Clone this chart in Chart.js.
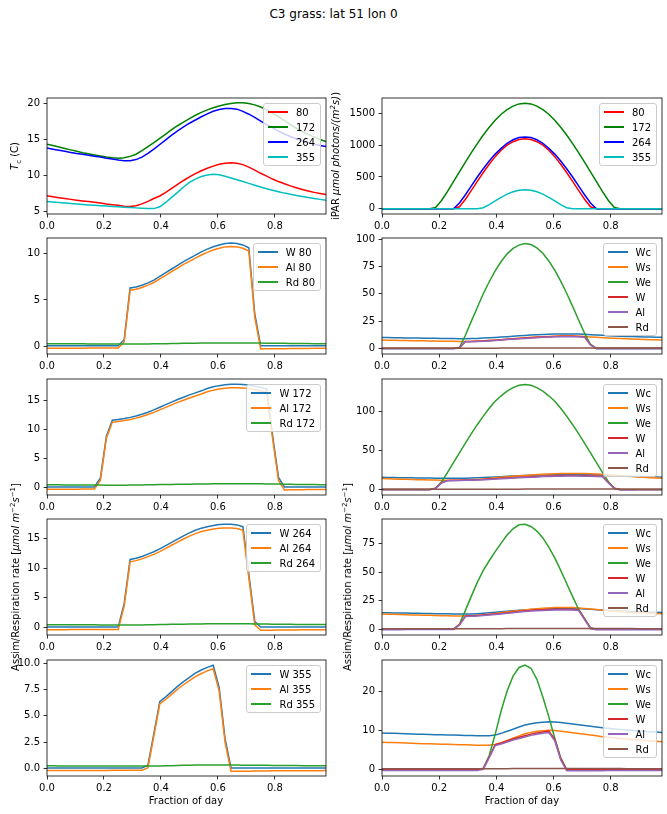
<!DOCTYPE html>
<html>
<head>
<meta charset="utf-8">
<script src="https://cdn.jsdelivr.net/npm/chart.js@4/dist/chart.umd.min.js"></script>
<style>
  html, body { margin: 0; padding: 0; background: #fff; }
  body { width: 667px; height: 814px; position: relative; overflow: hidden; font-family: "DejaVu Sans", sans-serif; color: #000; }
  canvas { position: absolute; }
  .txt { position: absolute; white-space: nowrap; font-size: 10px; line-height: 12px; z-index: 2; }
  .ylab { transform: translate(-50%, -50%) rotate(-90deg); }
  .xlab { transform: translate(-50%, -50%); }
  sup, sub { font-size: 7px; line-height: 0; }
  .legend { position: absolute; z-index: 3; background: rgba(255,255,255,0.8); border: 1px solid #ccc; border-radius: 3px; padding: 3px 5px 3px 4px; font-size: 10px; }
  .legend div { display: flex; align-items: center; height: 10px; margin-top: 5px; white-space: nowrap; }
  .legend div:first-child { margin-top: 0; }
  .legend i { display: inline-block; width: 20px; height: 1.5px; margin-right: 8px; }
</style>
</head>
<body>
<div class="txt" style="left:0; width:667px; top:7px; text-align:center; font-size:12px; line-height:14px;">C3 grass: lat 51 lon 0</div>
<div class="txt ylab" style="left:15px; top:156px;"><i>T</i><sub>c</sub> (C)</div>
<div class="txt ylab" style="left:336px; top:156px;">iPAR <i>μmol photons/(m<sup>2</sup>s)</i>)</div>
<div class="txt ylab" style="left:16px; top:577px;">Assim/Respiration rate [<i>μmol m</i><sup>−2</sup><i>s</i><sup>−1</sup>]</div>
<div class="txt ylab" style="left:348px; top:577px;">Assim/Respiration rate [<i>μmol m</i><sup>−2</sup><i>s</i><sup>−1</sup>]</div>
<div class="txt xlab" style="left:186px; top:801px;">Fraction of day</div>
<div class="txt xlab" style="left:522px; top:801px;">Fraction of day</div>

<canvas id="c1l"></canvas><canvas id="c1r"></canvas>
<canvas id="c2l"></canvas><canvas id="c2r"></canvas>
<canvas id="c3l"></canvas><canvas id="c3r"></canvas>
<canvas id="c4l"></canvas><canvas id="c4r"></canvas>
<canvas id="c5l"></canvas><canvas id="c5r"></canvas>

<script>
// half-hourly time steps, fraction of day
const dayFrac = [0, 0.0208, 0.0417, 0.0625, 0.0833, 0.1042, 0.125, 0.1458, 0.1667, 0.1875,
  0.2083, 0.2292, 0.25, 0.2708, 0.2917, 0.3125, 0.3333, 0.3542, 0.375, 0.3958,
  0.4167, 0.4375, 0.4583, 0.4792, 0.5, 0.5208, 0.5417, 0.5625, 0.5833, 0.6042,
  0.625, 0.6458, 0.6667, 0.6875, 0.7083, 0.7292, 0.75, 0.7708, 0.7917, 0.8125,
  0.8333, 0.8542, 0.875, 0.8958, 0.9167, 0.9375, 0.9583, 0.9792];
const xTicks = [0, 0.2, 0.4, 0.6, 0.8];
const xMax = 0.9792;

// canopy temperature (C) by day of year
const tc80 = [7.13, 7.0, 6.87, 6.75, 6.63, 6.52, 6.42, 6.32, 6.22, 6.13,
  6.0, 5.9, 5.8, 5.68, 5.65, 5.75, 6.0, 6.35, 6.75, 7.1,
  7.6, 8.15, 8.7, 9.25, 9.75, 10.2, 10.6, 10.95, 11.25, 11.5,
  11.65, 11.7, 11.65, 11.45, 11.1, 10.7, 10.25, 9.85, 9.45, 9.1,
  8.8, 8.5, 8.25, 8.0, 7.8, 7.6, 7.45, 7.3];
const tc172 = [14.3, 14.1, 13.9, 13.7, 13.5, 13.3, 13.1, 12.95, 12.8, 12.65,
  12.5, 12.4, 12.35, 12.4, 12.6, 12.9, 13.4, 13.95, 14.5, 15.1,
  15.7, 16.3, 16.85, 17.35, 17.85, 18.3, 18.7, 19.05, 19.35, 19.6,
  19.8, 19.95, 20.05, 20.05, 19.95, 19.75, 19.45, 19.05, 18.6, 18.1,
  17.55, 17.0, 16.5, 16.05, 15.65, 15.3, 14.95, 14.65];
const tc264 = [13.75, 13.6, 13.45, 13.3, 13.15, 13.0, 12.88, 12.75, 12.62, 12.5,
  12.35, 12.22, 12.1, 12.0, 12.0, 12.15, 12.5, 13.0, 13.6, 14.25,
  14.9, 15.55, 16.15, 16.7, 17.2, 17.65, 18.1, 18.5, 18.85, 19.1,
  19.25, 19.25, 19.15, 18.85, 18.45, 18.0, 17.5, 17.0, 16.55, 16.1,
  15.7, 15.35, 15.05, 14.75, 14.5, 14.3, 14.1, 13.95];
const tc355 = [6.34, 6.27, 6.2, 6.13, 6.05, 5.98, 5.92, 5.86, 5.8, 5.75,
  5.7, 5.65, 5.6, 5.55, 5.5, 5.45, 5.4, 5.35, 5.35, 5.6,
  6.2, 6.9, 7.6, 8.35, 9.0, 9.45, 9.8, 10.0, 10.1, 10.05,
  9.85, 9.6, 9.35, 9.1, 8.85, 8.6, 8.35, 8.1, 7.9, 7.7,
  7.5, 7.33, 7.17, 7.02, 6.88, 6.75, 6.63, 6.5];

// incident PAR
const ipar80 = [0, 0, 0, 0, 0, 0, 0, 0, 0, 0,
  0, 0, 0, 30, 150, 290, 430, 570, 700, 820,
  920, 1000, 1055, 1090, 1100, 1090, 1055, 1000, 920, 820,
  700, 570, 430, 290, 150, 30, 0, 0, 0, 0,
  0, 0, 0, 0, 0, 0, 0, 0];
const ipar172 = [0, 0, 0, 0, 0, 0, 0, 0, 0, 20,
  129, 272, 426, 580, 733, 882, 1026, 1160, 1283, 1392,
  1487, 1560, 1615, 1650, 1660, 1650, 1615, 1560, 1487, 1392,
  1283, 1160, 1026, 882, 733, 580, 426, 272, 129, 20,
  0, 0, 0, 0, 0, 0, 0, 0];
const ipar264 = [0, 0, 0, 0, 0, 0, 0, 0, 0, 0,
  0, 0, 0, 90, 220, 360, 500, 630, 750, 860,
  950, 1030, 1085, 1120, 1130, 1120, 1085, 1030, 950, 860,
  750, 630, 500, 360, 220, 90, 0, 0, 0, 0,
  0, 0, 0, 0, 0, 0, 0, 0];
const ipar355 = [0, 0, 0, 0, 0, 0, 0, 0, 0, 0,
  0, 0, 0, 0, 0, 0, 0, 15, 65, 125,
  180, 230, 268, 292, 300, 292, 268, 230, 180, 125,
  65, 15, 0, 0, 0, 0, 0, 0, 0, 0,
  0, 0, 0, 0, 0, 0, 0, 0];

// gross (W), net (Al) assimilation and respiration (Rd)
const w80 = [0.05, 0.05, 0.05, 0.05, 0.05, 0.05, 0.05, 0.05, 0.05, 0.05,
  0.05, 0.05, 0.05, 0.7, 6.3, 6.4, 6.6, 6.85, 7.15, 7.55,
  7.95, 8.35, 8.75, 9.15, 9.5, 9.85, 10.2, 10.5, 10.75, 10.95,
  11.1, 11.15, 11.1, 10.95, 10.65, 3.5, 0.05, 0.05, 0.05, 0.05,
  0.05, 0.05, 0.05, 0.05, 0.05, 0.05, 0.05, 0.05];
const al80 = [-0.22, -0.22, -0.22, -0.21, -0.21, -0.21, -0.21, -0.2, -0.2, -0.2,
  -0.2, -0.2, -0.19, 0.46, 6.06, 6.16, 6.35, 6.6, 6.89, 7.28,
  7.67, 8.06, 8.45, 8.84, 9.18, 9.52, 9.86, 10.15, 10.4, 10.59,
  10.74, 10.79, 10.74, 10.59, 10.3, 3.15, -0.29, -0.28, -0.27, -0.27,
  -0.26, -0.25, -0.25, -0.24, -0.24, -0.23, -0.23, -0.23];
const rd80 = [0.27, 0.27, 0.27, 0.26, 0.26, 0.26, 0.26, 0.25, 0.25, 0.25,
  0.25, 0.25, 0.24, 0.24, 0.24, 0.24, 0.25, 0.25, 0.26, 0.27,
  0.28, 0.29, 0.3, 0.31, 0.32, 0.33, 0.34, 0.35, 0.35, 0.36,
  0.36, 0.36, 0.36, 0.36, 0.35, 0.35, 0.34, 0.33, 0.32, 0.32,
  0.31, 0.3, 0.3, 0.29, 0.29, 0.28, 0.28, 0.28];

const w172 = [0.05, 0.05, 0.05, 0.05, 0.05, 0.05, 0.05, 0.05, 0.05, 1.6,
  8.8, 11.6, 11.75, 11.9, 12.1, 12.35, 12.65, 13.0, 13.4, 13.85,
  14.3, 14.75, 15.2, 15.6, 16.0, 16.35, 16.7, 17.1, 17.4, 17.6,
  17.75, 17.85, 17.85, 17.8, 17.7, 17.5, 17.3, 17.0, 9.0, 1.7,
  0.05, 0.05, 0.05, 0.05, 0.05, 0.05, 0.05, 0.05];
const al172 = [-0.37, -0.36, -0.36, -0.35, -0.34, -0.34, -0.33, -0.33, -0.32, 1.23,
  8.44, 11.24, 11.39, 11.54, 11.73, 11.97, 12.26, 12.59, 12.97, 13.4,
  13.84, 14.27, 14.7, 15.08, 15.47, 15.8, 16.14, 16.53, 16.82, 17.01,
  17.16, 17.25, 17.25, 17.2, 17.1, 16.91, 16.72, 16.43, 8.44, 1.16,
  -0.47, -0.46, -0.44, -0.43, -0.41, -0.4, -0.39, -0.38];
const rd172 = [0.42, 0.41, 0.41, 0.4, 0.39, 0.39, 0.38, 0.38, 0.37, 0.37,
  0.36, 0.36, 0.36, 0.36, 0.37, 0.38, 0.39, 0.41, 0.43, 0.45,
  0.46, 0.48, 0.5, 0.52, 0.53, 0.55, 0.56, 0.57, 0.58, 0.59,
  0.59, 0.6, 0.6, 0.6, 0.6, 0.59, 0.58, 0.57, 0.56, 0.54,
  0.52, 0.51, 0.49, 0.48, 0.46, 0.45, 0.44, 0.43];

const w264 = [0.05, 0.05, 0.05, 0.05, 0.05, 0.05, 0.05, 0.05, 0.05, 0.05,
  0.05, 0.05, 0.05, 4.0, 11.5, 11.7, 12.0, 12.4, 12.8, 13.3,
  13.85, 14.4, 14.95, 15.5, 16.0, 16.45, 16.8, 17.05, 17.25, 17.4,
  17.45, 17.45, 17.35, 17.05, 9.0, 1.0, 0.05, 0.05, 0.05, 0.05,
  0.05, 0.05, 0.05, 0.05, 0.05, 0.05, 0.05, 0.05];
const al264 = [-0.4, -0.4, -0.39, -0.39, -0.38, -0.38, -0.37, -0.37, -0.37, -0.36,
  -0.36, -0.35, -0.35, 3.6, 11.1, 11.3, 11.59, 11.97, 12.35, 12.83,
  13.37, 13.9, 14.43, 14.96, 15.45, 15.88, 16.22, 16.46, 16.65, 16.79,
  16.83, 16.83, 16.74, 16.45, 8.41, 0.42, -0.51, -0.5, -0.48, -0.47,
  -0.46, -0.45, -0.44, -0.43, -0.42, -0.42, -0.41, -0.41];
const rd264 = [0.45, 0.45, 0.44, 0.44, 0.43, 0.43, 0.42, 0.42, 0.42, 0.41,
  0.41, 0.4, 0.4, 0.4, 0.4, 0.4, 0.41, 0.43, 0.45, 0.47,
  0.48, 0.5, 0.52, 0.54, 0.55, 0.57, 0.58, 0.59, 0.6, 0.61,
  0.62, 0.62, 0.61, 0.6, 0.59, 0.58, 0.56, 0.55, 0.53, 0.52,
  0.51, 0.5, 0.49, 0.48, 0.47, 0.47, 0.46, 0.46];

const w355 = [0.05, 0.05, 0.05, 0.05, 0.05, 0.05, 0.05, 0.05, 0.05, 0.05,
  0.05, 0.05, 0.05, 0.05, 0.05, 0.05, 0.05, 0.3, 3.3, 6.35,
  6.8, 7.3, 7.8, 8.25, 8.65, 9.05, 9.35, 9.6, 9.8, 7.7,
  2.8, 0.05, 0.05, 0.05, 0.05, 0.05, 0.05, 0.05, 0.05, 0.05,
  0.05, 0.05, 0.05, 0.05, 0.05, 0.05, 0.05, 0.05];
const al355 = [-0.2, -0.2, -0.19, -0.19, -0.19, -0.19, -0.19, -0.19, -0.19, -0.19,
  -0.19, -0.18, -0.18, -0.18, -0.18, -0.18, -0.18, 0.07, 3.07, 6.12,
  6.55, 7.04, 7.52, 7.95, 8.34, 8.73, 9.02, 9.27, 9.47, 7.37,
  2.47, -0.27, -0.27, -0.26, -0.26, -0.25, -0.24, -0.24, -0.23, -0.23,
  -0.23, -0.22, -0.22, -0.21, -0.21, -0.21, -0.21, -0.2];
const rd355 = [0.25, 0.25, 0.24, 0.24, 0.24, 0.24, 0.24, 0.24, 0.24, 0.24,
  0.24, 0.23, 0.23, 0.23, 0.23, 0.23, 0.23, 0.23, 0.23, 0.23,
  0.25, 0.26, 0.28, 0.3, 0.31, 0.32, 0.33, 0.33, 0.33, 0.33,
  0.33, 0.32, 0.32, 0.31, 0.31, 0.3, 0.29, 0.29, 0.28, 0.28,
  0.28, 0.27, 0.27, 0.26, 0.26, 0.26, 0.26, 0.25];

// limiting rates: carboxylation (Wc), sink (Ws), light (We)
const wc80 = [10.0, 9.91, 9.81, 9.73, 9.64, 9.56, 9.49, 9.42, 9.34, 9.28,
  9.19, 9.11, 9.04, 8.96, 8.93, 9.01, 9.19, 9.44, 9.73, 9.98,
  10.34, 10.73, 11.13, 11.53, 11.89, 12.21, 12.5, 12.75, 12.97, 13.15,
  13.25, 13.29, 13.25, 13.11, 12.86, 12.57, 12.25, 11.96, 11.67, 11.42,
  11.2, 10.99, 10.81, 10.63, 10.48, 10.34, 10.23, 10.12];
const ws80 = [7.6, 7.49, 7.38, 7.28, 7.19, 7.09, 7.01, 6.93, 6.84, 6.77,
  6.66, 6.58, 6.5, 6.4, 6.37, 6.45, 6.66, 6.95, 7.28, 7.58,
  7.99, 8.45, 8.9, 9.36, 9.77, 10.15, 10.48, 10.77, 11.02, 11.23,
  11.35, 11.39, 11.35, 11.19, 10.9, 10.56, 10.19, 9.86, 9.53, 9.24,
  8.99, 8.74, 8.53, 8.32, 8.16, 7.99, 7.87, 7.74];
const we80 = [0, 0, 0, 0, 0, 0, 0, 0, 0, 0,
  0, 0, 0, 0.75, 12, 25, 37.5, 50, 61, 71,
  79.5, 86.5, 91.5, 94.5, 96, 95, 92, 87, 80, 71.5,
  61.5, 50.5, 38.5, 26, 14, 3.6, 0, 0, 0, 0,
  0, 0, 0, 0, 0, 0, 0, 0];

const wc172 = [15.6, 15.47, 15.34, 15.21, 15.08, 14.95, 14.82, 14.72, 14.63, 14.53,
  14.43, 14.37, 14.33, 14.37, 14.5, 14.69, 15.02, 15.37, 15.73, 16.12,
  16.51, 16.9, 17.26, 17.58, 17.91, 18.2, 18.46, 18.69, 18.88, 19.05,
  19.18, 19.27, 19.34, 19.34, 19.27, 19.14, 18.95, 18.69, 18.4, 18.07,
  17.71, 17.36, 17.03, 16.74, 16.48, 16.25, 16.02, 15.83];
const ws172 = [14.0, 13.77, 13.54, 13.3, 13.07, 12.84, 12.61, 12.43, 12.26, 12.09,
  11.91, 11.8, 11.74, 11.8, 12.03, 12.38, 12.96, 13.59, 14.23, 14.93,
  15.62, 16.32, 16.96, 17.54, 18.12, 18.64, 19.1, 19.51, 19.86, 20.15,
  20.38, 20.55, 20.67, 20.67, 20.55, 20.32, 19.97, 19.51, 18.99, 18.41,
  17.77, 17.13, 16.55, 16.03, 15.57, 15.16, 14.75, 14.41];
const we172 = [0, 0, 0, 0, 0, 0, 0, 0, 0, 1.7,
  10, 22, 34.5, 47, 59.5, 71.5, 83, 94, 104, 113,
  120, 126, 130.5, 133.5, 134.5, 133.5, 130.5, 126, 120, 113,
  104, 94, 83, 71.5, 59.5, 47, 34.5, 22, 10, 1.7,
  0, 0, 0, 0, 0, 0, 0, 0];

const wc264 = [14.5, 14.4, 14.29, 14.19, 14.08, 13.98, 13.89, 13.8, 13.71, 13.63,
  13.52, 13.43, 13.35, 13.28, 13.28, 13.38, 13.63, 13.98, 14.4, 14.85,
  15.31, 15.76, 16.18, 16.57, 16.92, 17.23, 17.55, 17.83, 18.07, 18.25,
  18.35, 18.35, 18.28, 18.07, 17.79, 17.48, 17.13, 16.78, 16.46, 16.15,
  15.87, 15.62, 15.41, 15.2, 15.03, 14.89, 14.75, 14.64];
const ws264 = [13.3, 13.14, 12.99, 12.83, 12.67, 12.51, 12.39, 12.25, 12.11, 11.99,
  11.83, 11.69, 11.57, 11.46, 11.46, 11.62, 11.99, 12.51, 13.14, 13.83,
  14.51, 15.19, 15.82, 16.4, 16.92, 17.4, 17.87, 18.29, 18.66, 18.92,
  19.08, 19.08, 18.97, 18.66, 18.24, 17.76, 17.24, 16.71, 16.24, 15.77,
  15.35, 14.98, 14.67, 14.35, 14.09, 13.88, 13.67, 13.51];
const we264 = [0, 0, 0, 0, 0, 0, 0, 0, 0, 0,
  0, 0, 0, 4.3, 16.5, 29, 41, 51.5, 60, 68,
  75.5, 82.5, 88, 91.5, 92, 90, 86, 80, 72, 62.5,
  51.5, 40, 28.5, 17.5, 9.5, 1.1, 0, 0, 0, 0,
  0, 0, 0, 0, 0, 0, 0, 0];

const wc355 = [9.35, 9.3, 9.25, 9.19, 9.13, 9.08, 9.04, 8.99, 8.95, 8.91,
  8.87, 8.83, 8.8, 8.76, 8.72, 8.68, 8.65, 8.61, 8.61, 8.8,
  9.25, 9.78, 10.3, 10.86, 11.35, 11.68, 11.95, 12.1, 12.17, 12.13,
  11.98, 11.8, 11.61, 11.42, 11.23, 11.05, 10.86, 10.67, 10.52, 10.37,
  10.22, 10.09, 9.97, 9.86, 9.76, 9.66, 9.57, 9.47];
const ws355 = [7.0, 6.94, 6.89, 6.83, 6.77, 6.71, 6.66, 6.62, 6.57, 6.53,
  6.49, 6.45, 6.41, 6.37, 6.33, 6.29, 6.25, 6.21, 6.21, 6.41,
  6.89, 7.45, 8.01, 8.61, 9.13, 9.49, 9.77, 9.93, 10.01, 9.97,
  9.81, 9.61, 9.41, 9.21, 9.01, 8.81, 8.61, 8.41, 8.25, 8.09,
  7.93, 7.79, 7.66, 7.54, 7.43, 7.33, 7.23, 7.13];
const we355 = [0, 0, 0, 0, 0, 0, 0, 0, 0, 0,
  0, 0, 0, 0, 0, 0, 0, 0.35, 3.6, 9,
  15, 20, 23.8, 26, 26.6, 25.8, 23, 18.5, 13.5, 8,
  3, 0, 0, 0, 0, 0, 0, 0, 0, 0,
  0, 0, 0, 0, 0, 0, 0, 0];

// colours
const mplR = '#ff0000', mplG = '#008000', mplB = '#0000ff', mplC = '#00bfbf';
const tab = ['#1f77b4', '#ff7f0e', '#2ca02c', '#d62728', '#9467bd', '#8c564b'];

// panel boxes (plot area in page pixels)
const colX = [47, 382];
const colW = [279, 280];
const rowY = [98, 238, 379, 519, 660];
const rowH = 116;

const fmtInt = v => String(v);
const fmt1 = v => v.toFixed(1);

function dayRates(w, al, rd, day) {
  return [
    { label: 'W ' + day, values: w, color: tab[0] },
    { label: 'Al ' + day, values: al, color: tab[1] },
    { label: 'Rd ' + day, values: rd, color: tab[2] }
  ];
}
function limits(wc, ws, we, w, al, rd) {
  return [
    { label: 'Wc', values: wc, color: tab[0] },
    { label: 'Ws', values: ws, color: tab[1] },
    { label: 'We', values: we, color: tab[2] },
    { label: 'W', values: w, color: tab[3] },
    { label: 'Al', values: al, color: tab[4] },
    { label: 'Rd', values: rd, color: tab[5] }
  ];
}

const panels = [
  { id: 'c1l', row: 0, col: 0, yMin: 4.6, yMax: 20.7, yTicks: [5, 10, 15, 20], fmt: fmtInt,
    series: [
      { label: '80', values: tc80, color: mplR },
      { label: '172', values: tc172, color: mplG },
      { label: '264', values: tc264, color: mplB },
      { label: '355', values: tc355, color: mplC }] },
  { id: 'c1r', row: 0, col: 1, yMin: -83, yMax: 1743, yTicks: [0, 500, 1000, 1500], fmt: fmtInt,
    series: [
      { label: '80', values: ipar80, color: mplR },
      { label: '172', values: ipar172, color: mplG },
      { label: '264', values: ipar264, color: mplB },
      { label: '355', values: ipar355, color: mplC }] },
  { id: 'c2l', row: 1, col: 0, yMin: -0.84, yMax: 11.7, yTicks: [0, 5, 10], fmt: fmtInt,
    series: dayRates(w80, al80, rd80, 80) },
  { id: 'c2r', row: 1, col: 1, yMin: -5.1, yMax: 101, yTicks: [0, 25, 50, 75, 100], fmt: fmtInt,
    series: limits(wc80, ws80, we80, w80, al80, rd80) },
  { id: 'c3l', row: 2, col: 0, yMin: -1.35, yMax: 18.75, yTicks: [0, 5, 10, 15], fmt: fmtInt,
    series: dayRates(w172, al172, rd172, 172) },
  { id: 'c3r', row: 2, col: 1, yMin: -7, yMax: 141.5, yTicks: [0, 50, 100], fmt: fmtInt,
    series: limits(wc172, ws172, we172, w172, al172, rd172) },
  { id: 'c4l', row: 3, col: 0, yMin: -1.3, yMax: 18.35, yTicks: [0, 5, 10, 15], fmt: fmtInt,
    series: dayRates(w264, al264, rd264, 264) },
  { id: 'c4r', row: 3, col: 1, yMin: -5.1, yMax: 96.6, yTicks: [0, 25, 50, 75], fmt: fmtInt,
    series: limits(wc264, ws264, we264, w264, al264, rd264) },
  { id: 'c5l', row: 4, col: 0, yMin: -0.72, yMax: 10.3, yTicks: [0, 2.5, 5, 7.5, 10], fmt: fmt1,
    series: dayRates(w355, al355, rd355, 355) },
  { id: 'c5r', row: 4, col: 1, yMin: -1.6, yMax: 27.9, yTicks: [0, 10, 20], fmt: fmtInt,
    series: limits(wc355, ws355, we355, w355, al355, rd355) }
];

// axes frame (all four spines)
const framePlugin = {
  id: 'frame',
  afterDraw(chart) {
    const a = chart.chartArea, ctx = chart.ctx;
    ctx.save();
    ctx.strokeStyle = '#000';
    ctx.lineWidth = 0.8;
    ctx.strokeRect(a.left, a.top, a.right - a.left, a.bottom - a.top);
    ctx.restore();
  }
};

const tickFont = { family: 'DejaVu Sans', size: 10 };
const padTop = 12, padRight = 10, yAxisW = 45, xAxisH = 28;

function makeLegend(p, x, y, w) {
  const box = document.createElement('div');
  box.className = 'legend';
  box.style.top = (y + 5) + 'px';
  box.style.right = (667 - (x + w - 5)) + 'px';
  p.series.forEach(s => {
    const row = document.createElement('div');
    const sw = document.createElement('i');
    sw.style.background = s.color;
    const t = document.createElement('span');
    t.textContent = s.label;
    row.appendChild(sw);
    row.appendChild(t);
    box.appendChild(row);
  });
  document.body.appendChild(box);
}

panels.forEach(p => {
  const x = colX[p.col], w = colW[p.col], y = rowY[p.row], h = rowH;
  const cv = document.getElementById(p.id);
  cv.width = yAxisW + w + padRight;
  cv.height = padTop + h + xAxisH;
  cv.style.left = (x - yAxisW) + 'px';
  cv.style.top = (y - padTop) + 'px';

  const n = p.series.length;
  new Chart(cv, {
    type: 'line',
    data: {
      datasets: p.series.map((s, k) => ({
        label: s.label,
        data: s.values.map((v, i) => ({ x: dayFrac[i], y: v })),
        borderColor: s.color,
        borderWidth: 1.5,
        pointRadius: 0,
        fill: false,
        tension: 0,
        order: n - k
      }))
    },
    options: {
      responsive: false,
      animation: false,
      devicePixelRatio: 1,
      events: [],
      layout: { padding: { top: padTop, right: padRight, left: 0, bottom: 0 } },
      plugins: { legend: { display: false }, tooltip: { enabled: false } },
      scales: {
        x: {
          type: 'linear', min: 0, max: xMax,
          grid: { display: true, drawOnChartArea: false, drawTicks: true, tickLength: 3.5, color: '#000', lineWidth: 0.8 },
          border: { display: false },
          ticks: { font: tickFont, color: '#000', padding: 3, maxRotation: 0, autoSkip: false, callback: v => fmt1(v) },
          afterBuildTicks: s => { s.ticks = xTicks.map(v => ({ value: v })); },
          afterFit: s => { s.height = xAxisH; }
        },
        y: {
          type: 'linear', min: p.yMin, max: p.yMax,
          grid: { display: true, drawOnChartArea: false, drawTicks: true, tickLength: 3.5, color: '#000', lineWidth: 0.8 },
          border: { display: false },
          ticks: { font: tickFont, color: '#000', padding: 3.5, autoSkip: false, callback: v => p.fmt(v) },
          afterBuildTicks: s => { s.ticks = p.yTicks.map(v => ({ value: v })); },
          afterFit: s => { s.width = yAxisW; }
        }
      }
    },
    plugins: [framePlugin]
  });
  makeLegend(p, x, y, w);
});
</script>
</body>
</html>
